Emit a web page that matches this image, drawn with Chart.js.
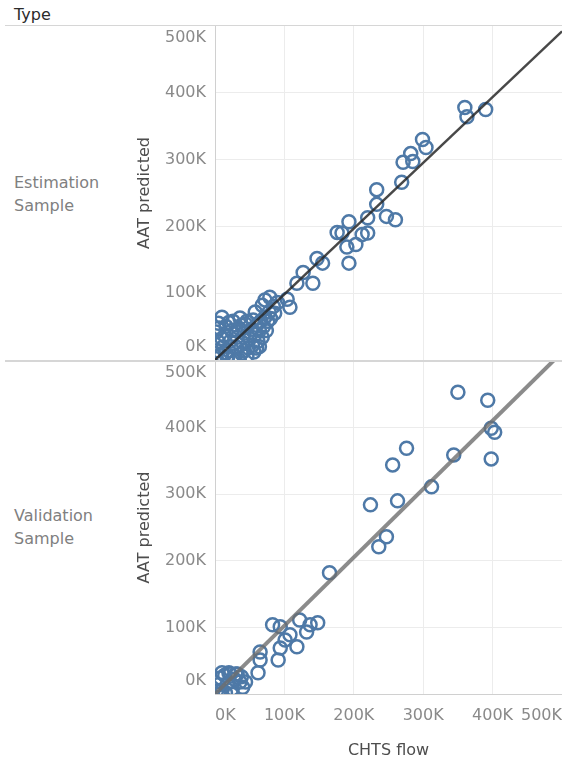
<!DOCTYPE html>
<html>
<head>
<meta charset="utf-8">
<script src="https://cdn.jsdelivr.net/npm/chart.js@4/dist/chart.umd.min.js"></script>
<style>
	body { margin: 0; background: #fff; }
	#wrap { position: relative; width: 562px; height: 763px; overflow: hidden; font-family: 'DejaVu Sans', sans-serif; }
	.lbl { position: absolute; font-size: 16px; color: #808080; line-height: 23px; }
	.hline { position: absolute; left: 5px; right: 0; height: 1px; background: #d6d6d6; }
	canvas { position: absolute; left: 0; }
</style>
</head>
<body>
<div id="wrap">
	<div class="lbl" style="left:14px; top:3px; color:#2b2b2b;">Type</div>
	<div class="hline" style="top:25px;"></div>
	<div class="lbl" style="left:14px; top:171px;">Estimation<br>Sample</div>
	<div class="lbl" style="left:14px; top:504px;">Validation<br>Sample</div>
	<canvas id="estChart" width="562" height="336" style="top:25px"></canvas>
	<canvas id="valChart" width="562" height="402" style="top:361px"></canvas>
	<div class="hline" style="top:360px; height:2px;"></div>
</div>
<script>
// CHTS flow (x) vs AAT predicted (y)
const estX = [
	2000, 3000, 4000, 2000, 5000, 10000, 8000, 12000, 14000, 16000, 18000, 20000, 22000, 24000, 26000,
	28000, 30000, 32000, 34000, 36000, 38000, 40000, 42000, 44000, 46000, 48000, 50000, 52000, 55000,
	54000, 58000, 60000, 62000, 64000, 66000, 68000, 70000, 72000, 74000, 76000, 78000, 80000, 84000,
	86000, 90000, 58000, 68000, 72000, 79000, 6000, 20000, 46000, 10000, 30000, 38000, 25000, 35000,
	15000, 42000, 56000, 60000, 64000,
	104000, 108000, 118000, 141000, 127000, 147000, 155000, 193000, 190000, 203000, 176000, 183000,
	212000, 220000, 193000, 220000, 247000, 260000, 233000, 233000, 269000, 271000, 285000, 282000,
	299000, 304000, 360000, 363000, 390000
]
const estY = [
	2000, 14000, 28000, 42000, 55000, 64000, 8000, 20000, 36000, 50000, 4000, 14000, 28000, 44000, 58000,
	6000, 20000, 34000, 48000, 63000, 10000, 26000, 40000, 54000, 6000, 18000, 32000, 46000, 60000,
	22000, 38000, 52000, 28000, 44000, 58000, 34000, 50000, 64000, 44000, 58000, 72000, 62000, 80000,
	70000, 86000, 72000, 82000, 90000, 94000, 48000, 56000, 58000, 32000, 44000, 52000, 2000, 0,
	10000, 14000, 12000, 18000, 20000,
	91000, 79000, 115000, 115000, 131000, 152000, 145000, 145000, 169000, 173000, 191000, 190000,
	188000, 190000, 207000, 213000, 215000, 210000, 255000, 233000, 266000, 296000, 297000, 309000,
	330000, 318000, 378000, 364000, 375000
]
const valX = [
	2000, 5000, 8000, 10000, 14000, 18000, 22000, 25000, 28000, 32000, 36000, 40000, 15000, 44000,
	6000, 38000, 10000, 20000, 30000, 24000,
	62000, 65000, 65000, 91000, 94000, 118000, 101000, 108000, 132000, 83000, 94000, 122000, 137000,
	148000, 165000, 236000, 247000, 224000, 263000, 312000, 256000, 276000, 344000, 350000, 393000,
	398000, 403000, 398000
]
const valY = [
	4000, 14000, 24000, 6000, 28000, 16000, 30000, 8000, 22000, 30000, 18000, 10000, 2000, 18000,
	0, 26000, 32000, 32000, 30000, 0,
	32000, 51000, 63000, 51000, 69000, 71000, 81000, 89000, 93000, 104000, 101000, 111000, 104000,
	107000, 182000, 221000, 236000, 284000, 290000, 311000, 344000, 369000, 359000, 453000, 441000,
	399000, 393000, 353000
]
// trend lines: [start, end] in data units
const estLineX = [0, 500000]
const estLineY = [0, 492000]
const valLineX = [0, 500000]
const valLineY = [0, 513000]

const axisTicks = [0, 100000, 200000, 300000, 400000, 500000]
const axisTickLabels = ['0K', '100K', '200K', '300K', '400K', '500K']

Chart.defaults.font.family = "'DejaVu Sans', sans-serif"
Chart.defaults.font.size = 16

const tickColor = '#8a8a8a'
const gridColor = (c) =>
	c.tick && (c.tick.value === 0 || c.tick.value === 500000) ? 'rgba(0,0,0,0)' : '#ececec'

const yLabelsPlugin = {
	id: 'yLabels',
	afterDraw(chart) {
		const s = chart.scales.y
		const a = chart.chartArea
		const ctx = chart.ctx
		ctx.save()
		ctx.font = "16px 'DejaVu Sans'"
		ctx.fillStyle = tickColor
		ctx.textAlign = 'right'
		ctx.textBaseline = 'middle'
		axisTicks.forEach((v, i) => {
			let y = s.getPixelForValue(v)
			y = Math.min(Math.max(y, a.top + 12), a.bottom - 13)
			ctx.fillText(axisTickLabels[i], a.left - 9, y)
		})
		ctx.restore()
	},
}

function toPoints(xs, ys) {
	return xs.map((x, i) => ({ x: x, y: ys[i] }))
}

function makePanel(id, xs, ys, lineX, lineY, lineColor, lineWidth, bottom) {
	return new Chart(document.getElementById(id), {
		type: 'scatter',
		data: {
			datasets: [
				{
					data: toPoints(lineX, lineY),
					showLine: true,
					borderColor: lineColor,
					borderWidth: lineWidth,
					pointRadius: 0,
					order: 0,
				},
				{
					data: toPoints(xs, ys),
					pointRadius: 6.5,
					pointBorderWidth: 2.5,
					pointBorderColor: '#4e79a7',
					pointBackgroundColor: 'rgba(0,0,0,0)',
					order: 1,
				},
			],
		},
		options: {
			responsive: false,
			animation: false,
			layout: { autoPadding: false, padding: { top: bottom ? 0 : 1, right: 0, left: 0, bottom: 0 } },
			plugins: { legend: { display: false }, tooltip: { enabled: false } },
			scales: {
				x: {
					type: 'linear',
					min: 0,
					max: 500000,
					afterBuildTicks: (s) => { s.ticks = axisTicks.map((v) => ({ value: v })) },
					afterFit: (s) => { s.height = bottom ? 69 : 1 },
					// tick marks kept invisible, only used to push the labels down
					grid: { color: gridColor, drawTicks: bottom, tickLength: 12, tickColor: 'rgba(0,0,0,0)' },
					border: { display: bottom, color: '#d0d0d0' },
					ticks: {
						display: bottom,
						align: 'inner',
						padding: 0,
						color: tickColor,
						maxRotation: 0,
						autoSkip: false,
						callback: (v, i) => axisTickLabels[i],
					},
					title: {
						display: bottom,
						text: 'CHTS flow',
						color: '#4d4d4d',
						padding: { top: 0, bottom: 3 },
					},
				},
				y: {
					type: 'linear',
					min: 0,
					max: 500000,
					afterBuildTicks: (s) => { s.ticks = axisTicks.map((v) => ({ value: v })) },
					afterFit: (s) => { s.width = 215 },
					grid: { color: gridColor, drawTicks: false },
					border: { display: true, color: '#d0d0d0' },
					ticks: { display: false },
					title: {
						display: true,
						text: 'AAT predicted',
						color: '#4d4d4d',
						padding: { top: 135, bottom: 0 },
					},
				},
			},
		},
		plugins: [yLabelsPlugin],
	})
}

makePanel('estChart', estX, estY, estLineX, estLineY, 'rgba(40,40,40,0.85)', 2.5, false)
makePanel('valChart', valX, valY, valLineX, valLineY, 'rgba(110,110,110,0.8)', 4, true)
</script>
</body>
</html>
